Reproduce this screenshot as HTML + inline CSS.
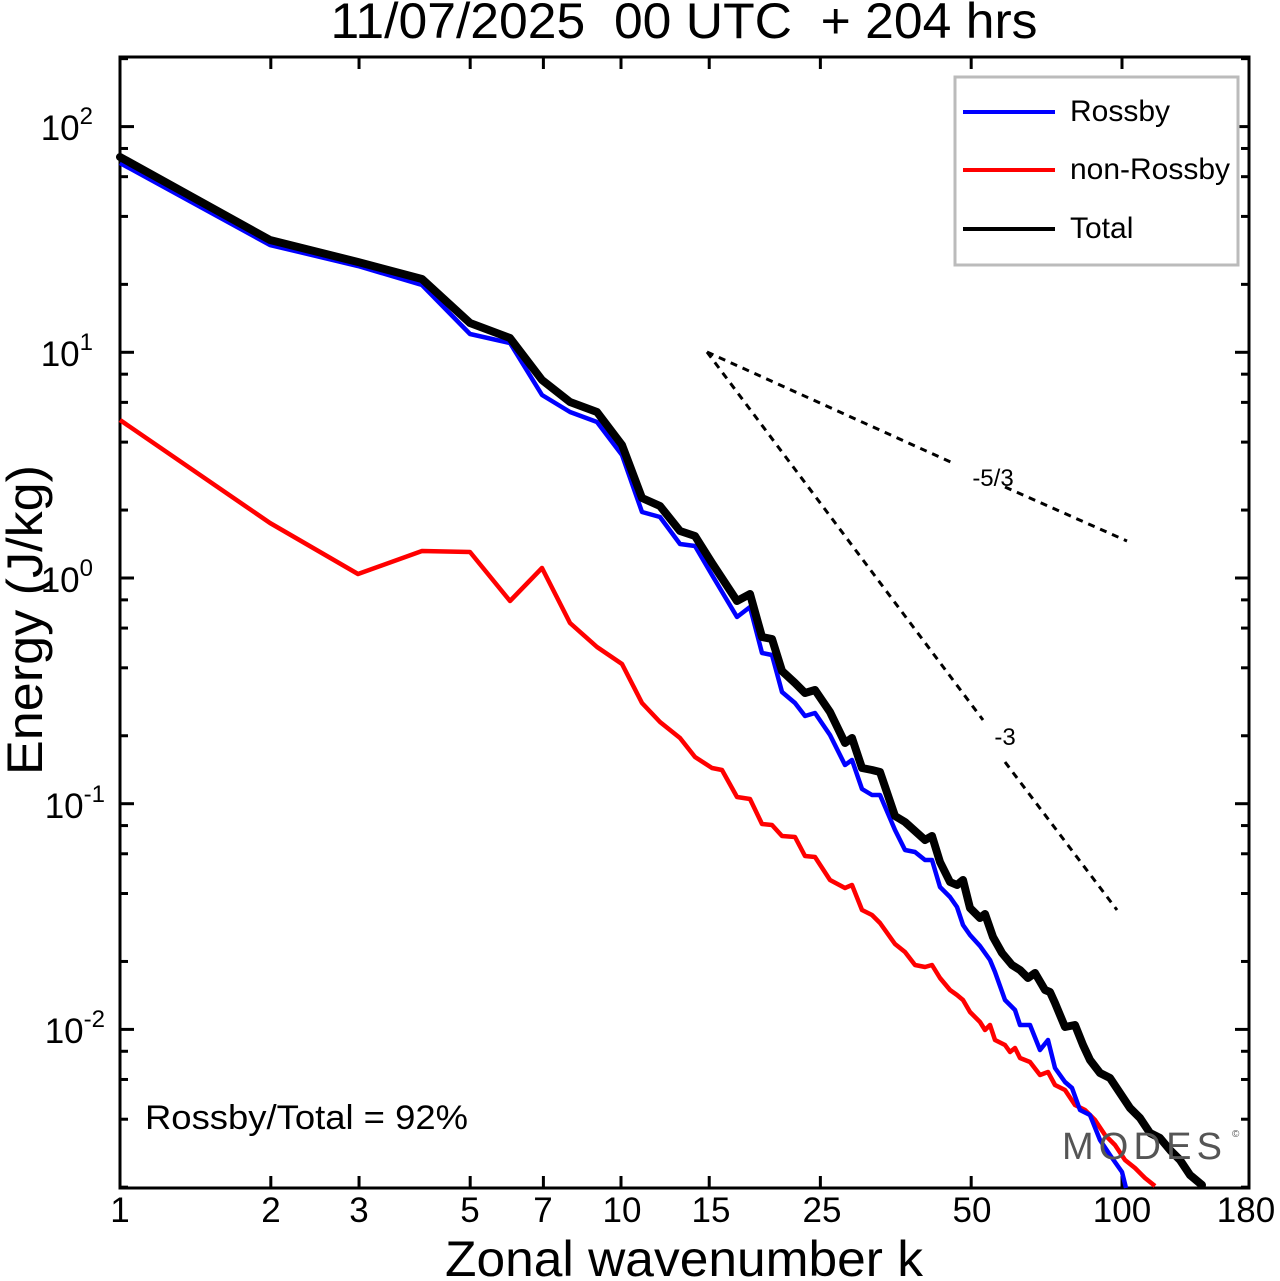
<!DOCTYPE html>
<html><head><meta charset="utf-8"><style>
html,body{margin:0;padding:0;background:#fff;}
svg{display:block;font-family:"Liberation Sans",sans-serif;}
</style></head><body>
<svg id="s" width="1280" height="1281" viewBox="0 0 1280 1281" xmlns="http://www.w3.org/2000/svg">
<rect width="1280" height="1281" fill="#fff"/>
<text x="684" y="38" font-size="50" text-anchor="middle" textLength="707" lengthAdjust="spacingAndGlyphs" xml:space="preserve">11/07/2025  00 UTC  + 204 hrs</text>
<g id="ticks" stroke="#000" stroke-width="3"></g>
<rect x="120" y="57" width="1129" height="1131" fill="none" stroke="#000" stroke-width="3"/>
<g font-size="35" text-anchor="middle">
<text x="120" y="1222">1</text><text x="271" y="1222">2</text><text x="359" y="1222">3</text>
<text x="470" y="1222">5</text><text x="543" y="1222">7</text><text x="622" y="1222">10</text>
<text x="711" y="1222">15</text><text x="822" y="1222">25</text><text x="972" y="1222">50</text>
<text x="1122" y="1222">100</text><text x="1246" y="1222">180</text>
</g>
<g font-size="35" text-anchor="end">
<text x="93" y="140">10<tspan font-size="24" dy="-16">2</tspan></text>
<text x="93" y="366">10<tspan font-size="24" dy="-16">1</tspan></text>
<text x="93" y="592">10<tspan font-size="24" dy="-16">0</tspan></text>
<text x="105" y="818">10<tspan font-size="24" dy="-16">-1</tspan></text>
<text x="105" y="1043">10<tspan font-size="24" dy="-16">-2</tspan></text>
</g>
<text x="684" y="1276" font-size="50" text-anchor="middle" textLength="478" lengthAdjust="spacingAndGlyphs">Zonal wavenumber k</text>
<text transform="translate(42,620) rotate(-90)" font-size="50" text-anchor="middle" textLength="310" lengthAdjust="spacingAndGlyphs">Energy (J/kg)</text>
<g stroke="#000" stroke-width="3" stroke-dasharray="7,6" fill="none">
<line x1="707" y1="352" x2="955" y2="464"/><line x1="1005" y1="487" x2="1127" y2="541"/>
<line x1="707" y1="352" x2="983" y2="720"/><line x1="1005" y1="762" x2="1117" y2="910"/>
</g>
<text x="993" y="486" font-size="24" text-anchor="middle">-5/3</text>
<text x="1005" y="745" font-size="24" text-anchor="middle">-3</text>
<polyline fill="none" stroke="#f00" stroke-width="4.5" stroke-linejoin="round" points="120,420 270,523 358,574 422,551 470,552 510,601 542,568 570,623 597,647 622,664 642,703 660,722 680,738 695,757 712,768 722,770 737,797 750,799 762,824 772,825 782,836 795,837 805,856 815,857 830,880 845,888 852,885 862,910 872,915 880,923 895,944 905,952 915,965 925,967 932,965 940,978 950,990 957,995 963,1000 970,1012 980,1022 985,1030 990,1025 995,1040 1005,1045 1010,1052 1015,1048 1020,1058 1030,1062 1040,1075 1048,1072 1055,1085 1065,1090 1075,1105 1085,1110 1095,1120 1105,1135 1115,1145 1125,1160 1135,1168 1145,1178 1155,1186"/>
<polyline fill="none" stroke="#00f" stroke-width="4.5" stroke-linejoin="round" points="120,163 270,245 358,266 422,285 470,334 510,343 542,395 570,412 597,422 622,455 642,512 660,517 680,544 695,546 712,575 737,617 750,607 762,653 772,655 782,692 795,703 805,716 815,713 830,735 845,765 852,760 862,789 872,795 880,795 895,830 905,850 915,852 925,860 932,860 940,887 950,897 957,907 963,925 970,935 980,946 985,953 990,960 995,972 1005,1000 1010,1005 1015,1010 1020,1025 1030,1025 1040,1050 1048,1040 1055,1068 1065,1082 1072,1088 1080,1110 1090,1115 1100,1140 1110,1155 1122,1172 1126,1188"/>
<polyline fill="none" stroke="#000" stroke-width="8" stroke-linejoin="round" stroke-linecap="round" points="120,157 270,240 358,262 422,279 470,323 510,338 542,380 570,402 597,412 622,445 642,498 660,506 680,531 695,536 712,563 737,601 750,594 762,637 772,639 782,671 795,683 805,693 815,690 830,712 845,743 852,738 862,768 872,770 880,772 895,816 905,822 915,831 925,840 932,836 940,862 950,882 957,885 963,880 970,908 980,918 985,914 993,937 1002,953 1012,965 1020,970 1028,978 1035,973 1045,990 1050,992 1055,1003 1065,1027 1075,1025 1083,1045 1090,1060 1100,1073 1110,1078 1120,1093 1130,1108 1140,1118 1150,1133 1160,1138 1170,1150 1180,1160 1190,1175 1202,1185"/>
<rect x="955" y="77" width="283" height="188" fill="#fff" stroke="#bbb" stroke-width="3"/>
<line x1="963" y1="112" x2="1055" y2="112" stroke="#00f" stroke-width="4"/>
<line x1="963" y1="170" x2="1055" y2="170" stroke="#f00" stroke-width="4"/>
<line x1="963" y1="229" x2="1055" y2="229" stroke="#000" stroke-width="4"/>
<g font-size="30"><text x="1070" y="121">Rossby</text><text x="1070" y="179" textLength="160" lengthAdjust="spacingAndGlyphs">non-Rossby</text><text x="1070" y="238">Total</text></g>
<text x="145" y="1129" font-size="34" textLength="323" lengthAdjust="spacingAndGlyphs">Rossby/Total = 92%</text>
<text x="1062" y="1159" font-size="38" fill="#555" textLength="160" lengthAdjust="spacing">MODES</text>
<text x="1232" y="1137" font-size="10" fill="#555">©</text>
</svg>
<script>
var g=document.getElementById('ticks'),ns='http://www.w3.org/2000/svg';
function L(a,b,c,d){var l=document.createElementNS(ns,'line');l.setAttribute('x1',a);l.setAttribute('y1',b);l.setAttribute('x2',c);l.setAttribute('y2',d);g.appendChild(l);}
[1,2,3,5,7,10,15,25,50,100].forEach(function(k){var x=120+501*Math.log10(k);L(x,1188,x,1176);L(x,57,x,69);});
for(var e=-3;e<=2;e++){[1,2,4,6,8].forEach(function(m){var v=e+Math.log10(m);var y=578-225.7*v;if(y<57||y>1188)return;var len=m==1?14:8;L(120,y,120+len,y);L(1249,y,1249-len,y);});}
</script>
</body></html>
